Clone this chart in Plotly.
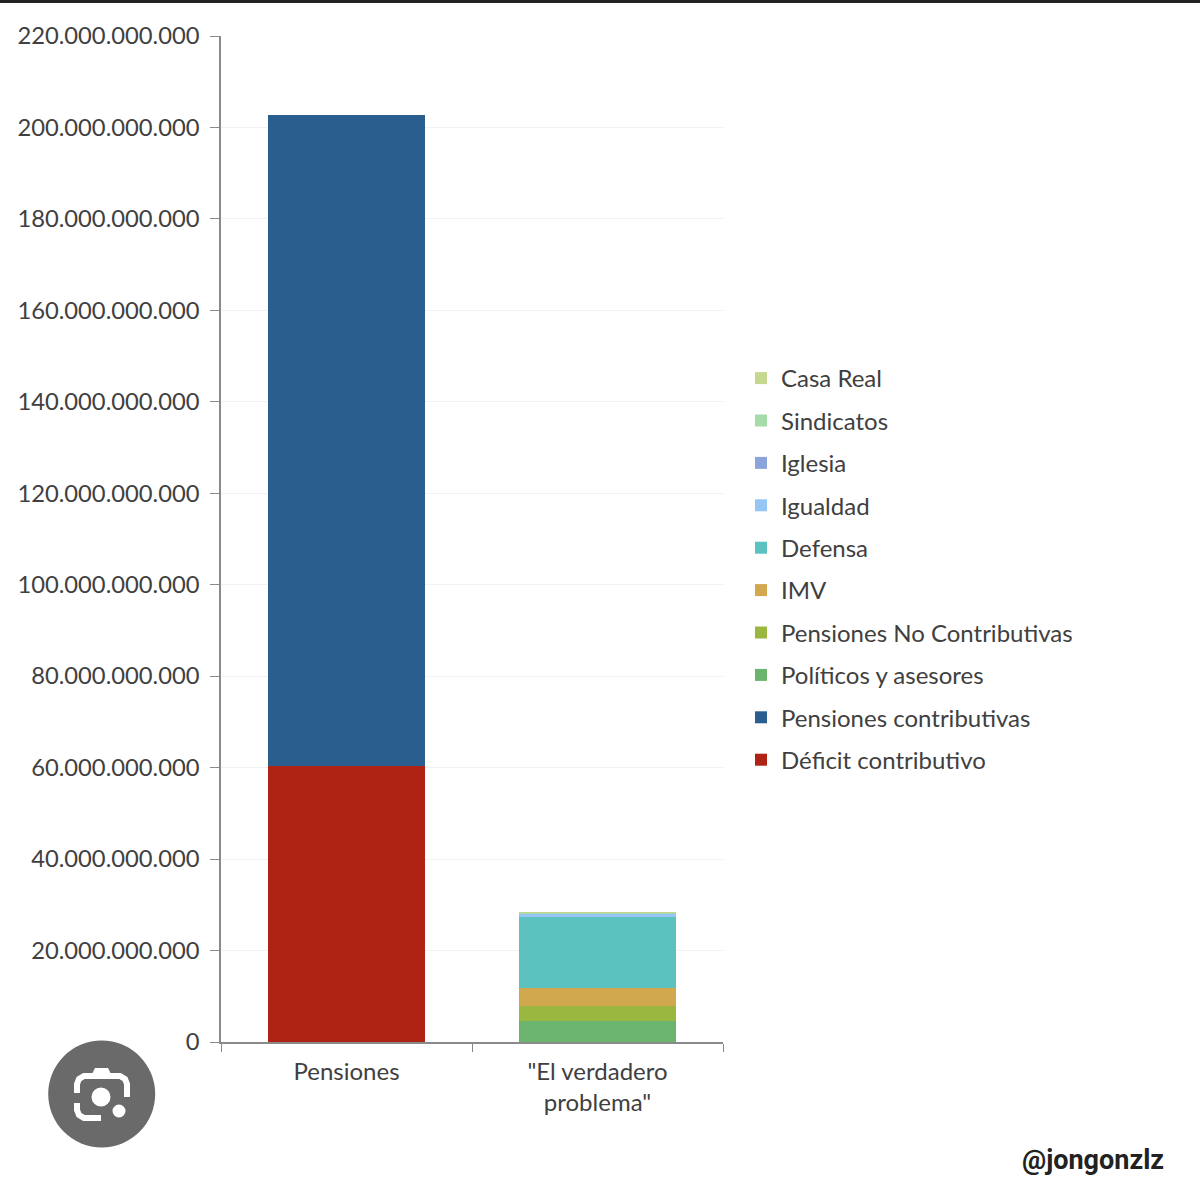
import plotly.graph_objects as go

W, H = 1200, 1193
L, R, T, B = 221, 723, 36, 1042

categories = ["Pensiones", '"El verdadero<br>problema"']

deficit = [60.4e9, None]
contributivas = [142.3e9, None]
politicos = [None, 4.6e9]
no_contributivas = [None, 3.3e9]
imv = [None, 4.0e9]
defensa = [None, 15.5e9]
igualdad = [None, 0.7e9]
iglesia = [None, 0.05e9]
sindicatos = [None, 0.1e9]
casa_real = [None, 0.1e9]

series = [
    ("Déficit contributivo", deficit, "#ae2314"),
    ("Pensiones contributivas", contributivas, "#2a5e8e"),
    ("Políticos y asesores", politicos, "#6ab46e"),
    ("Pensiones No Contributivas", no_contributivas, "#9ab73f"),
    ("IMV", imv, "#d2a84e"),
    ("Defensa", defensa, "#5bc2c0"),
    ("Igualdad", igualdad, "#96c6f5"),
    ("Iglesia", iglesia, "#8ba5db"),
    ("Sindicatos", sindicatos, "#a5dba8"),
    ("Casa Real", casa_real, "#c5d88f"),
]


def px_x(x):
    return (x - L) / (R - L)


def px_y(y):
    return (B - y) / (B - T)


def px_path(points):
    return "M" + " L".join(f"{px_x(x):.5f},{px_y(y):.5f}" for x, y in points)


def circle(cx, cy, r, color):
    return dict(type="circle", xref="paper", yref="paper", layer="above",
                x0=px_x(cx - r), x1=px_x(cx + r), y0=px_y(cy + r), y1=px_y(cy - r),
                fillcolor=color, line_width=0)


def stroke(points, width=6):
    return dict(type="path", xref="paper", yref="paper", layer="above",
                path=px_path(points), line=dict(color="white", width=width))


fig = go.Figure()
for i, (name, values, color) in enumerate(series):
    # legend reads top-down from the last stacked series
    fig.add_bar(x=categories, y=values, name=name, marker_color=color,
                marker_line_width=0, legendgroup=name, legendrank=100 - i)

# dark strip along the top and the lens button from the screenshot
shapes = [
    dict(type="rect", xref="paper", yref="paper", x0=px_x(0), x1=px_x(W),
         y0=px_y(3), y1=px_y(0), fillcolor="#222222", line_width=0),
    circle(101.7, 1094, 53.5, "#6a6a6a"),
    stroke([(77, 1093), (77, 1084), (79, 1079), (84, 1076), (120, 1076),
            (125, 1079), (127, 1084), (127, 1097)]),
    stroke([(77, 1103), (77, 1110), (79, 1115), (84, 1118), (101, 1118)]),
    dict(type="path", xref="paper", yref="paper", layer="above", fillcolor="white",
         line_width=0, path=px_path([(91, 1076), (95, 1068), (108, 1068), (112, 1076)]) + " Z"),
    circle(101, 1097, 9.5, "white"),
    circle(119, 1111, 6.5, "white"),
]

fig.update_layout(
    width=W,
    height=H,
    autosize=False,
    barmode="stack",
    bargap=0.375,
    separators=",.",
    paper_bgcolor="white",
    plot_bgcolor="white",
    margin=dict(l=L, r=W - R, t=T, b=H - B, autoexpand=False),
    font=dict(family="Lato", size=24, color="#404040"),
    shapes=shapes,
    legend=dict(
        x=px_x(741),
        y=px_y(356),
        xanchor="left",
        yanchor="top",
        traceorder="grouped",
        tracegroupgap=8.2,
        font=dict(size=24, color="#404040"),
    ),
    annotations=[
        dict(text="<b>@jongonzlz</b>", xref="paper", yref="paper", x=px_x(1166), y=px_y(1160),
             xanchor="right", yanchor="middle", showarrow=False,
             font=dict(family="Roboto", size=27, color="#222222")),
    ],
)
fig.update_yaxes(
    range=[0, 220e9],
    dtick=20e9,
    tickformat=",d",
    gridcolor="#f1f1f1",
    gridwidth=1,
    showline=True,
    linecolor="#8a8a8a",
    linewidth=1.5,
    ticks="outside",
    ticklen=9,
    tickcolor="#8a8a8a",
    zeroline=False,
    ticklabelstandoff=6,
    tickfont=dict(size=23.75),
)
fig.update_xaxes(
    showline=True,
    linecolor="#8a8a8a",
    linewidth=1.5,
    ticks="outside",
    ticklen=8,
    tickcolor="#8a8a8a",
    tickson="boundaries",
    ticklabelstandoff=7,
    tickfont=dict(size=24),
)

fig.write_html("out.html", config={"displayModeBar": False},
               post_script="document.body.style.margin = '0';")
